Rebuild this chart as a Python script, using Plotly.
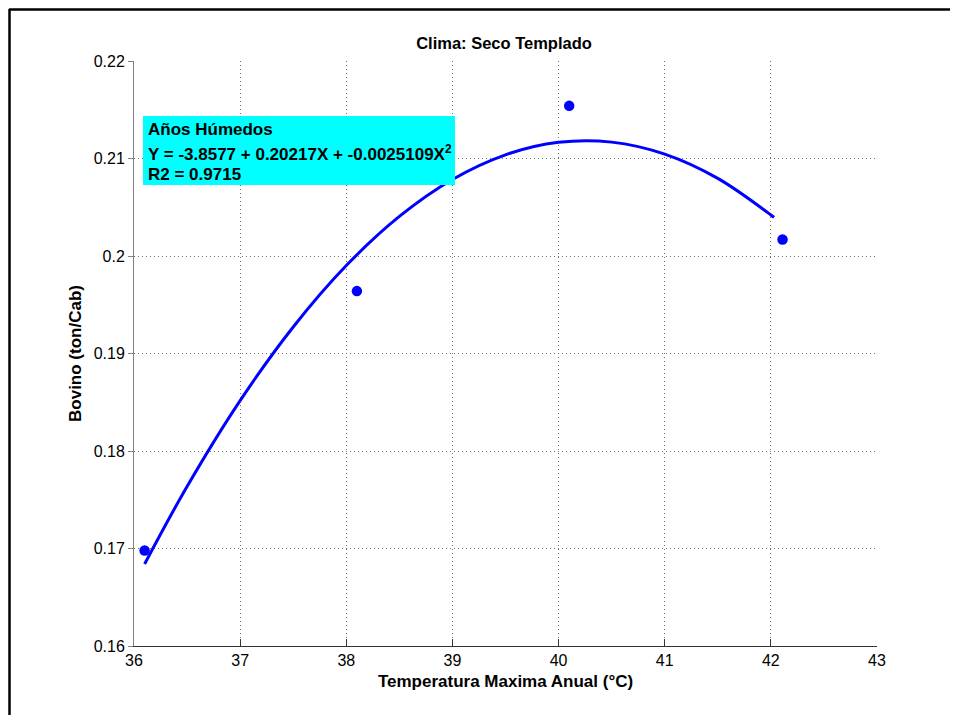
import plotly.graph_objects as go

# Data points
temp_x = [36.10, 38.10, 40.10, 42.11]
bovino_y = [0.1698, 0.1964, 0.2154, 0.2017]

# Fitted quadratic curve samples (Y = -3.8577 + 0.20217X - 0.0025109X^2)
fit_x = [36.1, 36.5, 37.0, 37.5, 38.0, 38.5, 39.0, 39.5, 40.0, 40.5, 41.0, 41.5, 42.0, 42.03]
fit_y = [0.16841, 0.17636, 0.18517, 0.19272, 0.19902, 0.20406, 0.20785, 0.21038,
         0.21166, 0.21168, 0.21045, 0.20796, 0.20421, 0.20395]

x_ticks = [36, 37, 38, 39, 40, 41, 42, 43]
y_ticks = [0.16, 0.17, 0.18, 0.19, 0.20, 0.21, 0.22]
y_ticktext = ["0.16", "0.17", "0.18", "0.19", "0.2", "0.21", "0.22"]

title_text = "Clima: Seco Templado"
x_title = "Temperatura Maxima Anual (°C)"
y_title = "Bovino (ton/Cab)"
box_lines = ["Años Húmedos", "Y = -3.8577 + 0.20217X + -0.0025109X<sup>2</sup>", "R2 = 0.9715"]

OFF = 8  # page body margin of the browser
W, H = 959 - 2 * OFF, 724 - 2 * OFF
# desired page-pixel plot area: x 134..877, y 61..646
L = 134 - OFF
T = 61 - OFF
R = W - (877 - OFF)
B = H - (646 - OFF)
pw, ph = W - L - R, H - T - B

def px(x):  # page pixel -> paper x
    return (x - OFF - L) / pw

def py(y):  # page pixel -> paper y
    return (H - B - (y - OFF)) / ph

FONT = "Liberation Sans, Arial, sans-serif"

fig = go.Figure()
fig.add_trace(go.Scatter(x=fit_x, y=fit_y, mode="lines", line=dict(color="#0000FF", width=3, shape="spline"),
                         showlegend=False, hoverinfo="skip"))
fig.add_trace(go.Scatter(x=temp_x, y=bovino_y, mode="markers", marker=dict(color="#0000FF", size=10.5),
                         showlegend=False))

GRID_DASH = "1px,3px"
fig.update_layout(
    width=W, height=H,
    margin=dict(l=L, r=R, t=T, b=B, autoexpand=False),
    paper_bgcolor="white", plot_bgcolor="white",
    font=dict(family=FONT, color="black", size=16),
    title=dict(text="<b>" + title_text + "</b>", x=(504 - OFF) / W, xanchor="center",
               y=1 - (43 - OFF) / H, yanchor="middle", font=dict(size=16.5, family=FONT)),
    xaxis=dict(range=[36, 43], tickvals=x_ticks, ticks="inside", ticklen=7, tickcolor="#333333",
               showline=True, linecolor="#333333", linewidth=1, mirror=False,
               showgrid=True, gridcolor="#707070", griddash=GRID_DASH, gridwidth=1, zeroline=False,
               tickfont=dict(size=16), ticklabelstandoff=0,
               title=dict(text="<b>" + x_title + "</b>", font=dict(size=17), standoff=6)),
    yaxis=dict(range=[0.16, 0.22], tickvals=y_ticks, ticktext=y_ticktext, ticks="outside", ticklen=5,
               tickcolor="#808080",
               showline=True, linecolor="#808080", linewidth=1, mirror=False,
               showgrid=True, gridcolor="#707070", griddash=GRID_DASH, gridwidth=1, zeroline=False,
               tickfont=dict(size=16),
               title=dict(text="<b>" + y_title + "</b>", font=dict(size=17), standoff=7)),
)

# figure border (top and left edge of the outer box)
fig.add_shape(type="line", xref="paper", yref="paper", x0=px(9), x1=px(OFF + W - 1), y0=py(9.5), y1=py(9.5),
              line=dict(color="black", width=2.5))
fig.add_shape(type="line", xref="paper", yref="paper", x0=px(9.5), x1=px(9.5), y0=py(9), y1=py(OFF + H - 1),
              line=dict(color="black", width=2.5))

# cyan text box
fig.add_shape(type="rect", xref="paper", yref="paper", x0=px(143), x1=px(455), y0=py(116), y1=py(185),
              fillcolor="#00FFFF", line=dict(width=0), layer="above")
for txt, yy in zip(box_lines, [129, 153, 174]):
    fig.add_annotation(xref="paper", yref="paper", x=px(146), y=py(yy), xanchor="left", yanchor="middle",
                       text="<b>" + txt + "</b>", showarrow=False, font=dict(size=17, family=FONT, color="black"))

fig.write_html("out.html")
